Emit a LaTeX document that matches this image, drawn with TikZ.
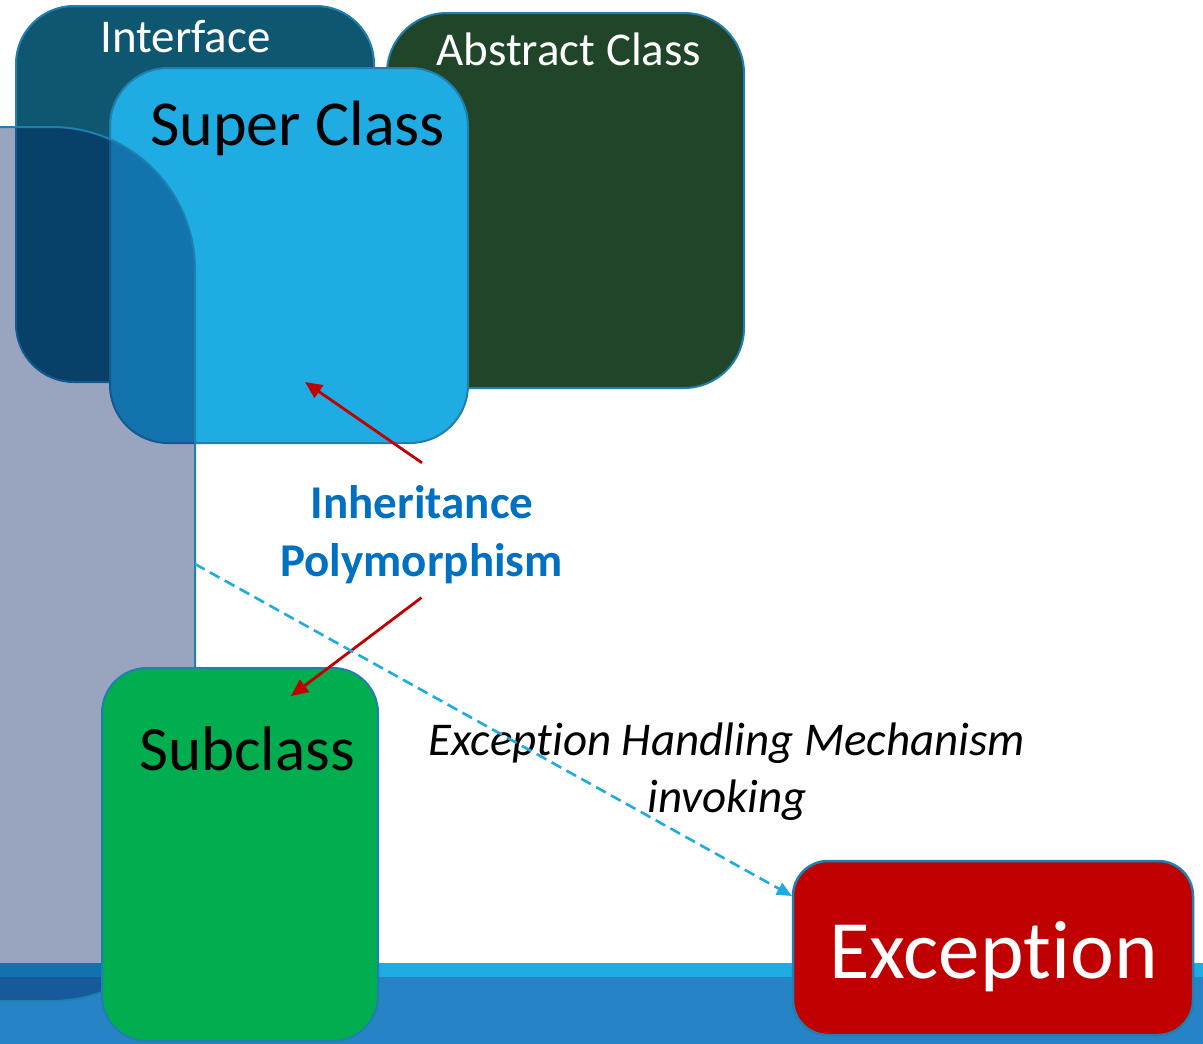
\documentclass[tikz,border=0pt]{standalone}
\usepackage{fontspec}
\setmainfont{Carlito}[Ligatures=NoCommon]
\usetikzlibrary{arrows.meta}
\definecolor{bordc}{HTML}{1F7FAF}
\definecolor{intfc}{HTML}{0F5770}
\definecolor{absc}{HTML}{214529}
\definecolor{superc}{HTML}{1EACE3}
\definecolor{grayc}{RGB}{2,30,95}
\definecolor{subc}{HTML}{00AE4F}
\definecolor{excc}{HTML}{C00000}
\definecolor{bandlight}{HTML}{1EABE2}
\definecolor{banddark}{HTML}{2683C6}
\definecolor{inhc}{HTML}{0070C0}
\definecolor{redarrc}{HTML}{C00000}
\definecolor{dashc}{HTML}{1EABE2}
\newcommand\myfs[1]{\fontsize{#1}{#1}\selectfont}
\newcommand\nolig{\kern0pt{}}
\begin{document}
\begin{tikzpicture}[x=1pt,y=-1pt,
  box/.style={rectangle, draw=bordc, line width=2pt, inner sep=0pt, outer sep=0pt},
  lbl/.style={anchor=base, inner sep=0pt},
  redarr/.style={draw=redarrc, line width=2.8pt, -{Triangle[length=17pt,width=15pt]}},
  dasharr/.style={draw=dashc, line width=2.6pt, dash pattern=on 11pt off 6pt, -{Triangle[length=15pt,width=13pt]}}]
\useasboundingbox (0,0) rectangle (1203,1044);
\clip (0,0) rectangle (1203,1044);
\fill[white] (0,0) rectangle (1203,1044);
% bottom band
\fill[bandlight] (0,963) rectangle (1203,977);
\fill[banddark] (0,977) rectangle (1203,1044);
% boxes
\node[box, fill=intfc, minimum width=358pt, minimum height=376pt, rounded corners=58pt] (intf) at (195,194) {};
\node[box, fill=absc, minimum width=357pt, minimum height=375pt, rounded corners=60pt] (abs) at (565.5,200.5) {};
\node[box, fill=superc, minimum width=358pt, minimum height=375pt, rounded corners=58pt] (super) at (289,255.5) {};
\node[box, fill=grayc, fill opacity=0.4, minimum width=495pt, minimum height=874pt, rounded corners=143pt] (gray) at (-52.5,564) {};
\node[box, fill=subc, minimum width=276pt, minimum height=373pt, rounded corners=45pt] (sub) at (240,854.5) {};
\node[box, fill=excc, line width=2.5pt, minimum width=400pt, minimum height=174pt, rounded corners=35pt] (exc) at (993,948) {};
% texts
\node[lbl, text=white] (tintf) at (185.5,52) {\myfs{47}Interface};
\node[lbl, text=white] (tabs) at (569,65) {\myfs{47}Abstract Class};
\node[lbl, text=black] (tsuper) at (297.5,145) {\myfs{64}Super Class};
\node[lbl, text=black] (tsub) at (247,770) {\myfs{63}Subclass};
\node[lbl, text=white] (texc) at (993.5,978) {\myfs{83}Except\nolig ion};
\node[lbl, text=inhc] (inh) at (422,518) {\myfs{47}\bfseries Inheritance};
\node[lbl, text=inhc] (poly) at (421.5,576) {\myfs{47}\bfseries Polymorphism};
\node[lbl, text=black] (ehm) at (727,755) {\myfs{47}\itshape Except\nolig ion Handling Mechanism};
\node[lbl, text=black] (inv) at (727,812) {\myfs{47}\itshape invoking};
% connectors
\coordinate (inhTop) at ([yshift=22pt]inh.north);
\coordinate (polyBot) at ([yshift=-14pt]poly.south);
\coordinate (superPt) at (305,382);
\coordinate (subPt) at (291,696);
\coordinate (excTip) at (792,896);
\draw[redarr] (inhTop) -- (superPt);
\draw[redarr] (polyBot) -- (subPt);
\draw[dasharr] (gray.east) -- (excTip);
\end{tikzpicture}
\end{document}
